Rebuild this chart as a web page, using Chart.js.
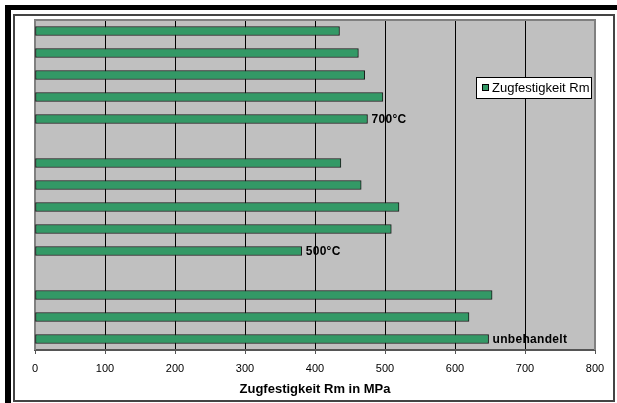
<!DOCTYPE html>
<html>
<head>
<meta charset="utf-8">
<script src="https://cdn.jsdelivr.net/npm/chart.js@4/dist/chart.umd.min.js"></script>
<style>
  html, body { margin: 0; padding: 0; background: #fff; }
  #wrap { width: 617px; height: 403px; }
</style>
</head>
<body>
<div id="wrap"><canvas id="c" width="617" height="403"></canvas></div>
<script>
// Tensile strength per specimen, grouped by heat treatment (top to bottom).
// Empty slots separate the groups; the group name sits on the last bar of each group.
const categories = ['', '', '', '', '700°C', '', '', '', '', '', '500°C', '', '', '', 'unbehandelt'];
const rmValues = [435, 462, 471, 497, 475, null, 437, 466, 520, 509, 381, null, 653, 620, 648];
const xTicks = [0, 100, 200, 300, 400, 500, 600, 700, 800];
const seriesName = 'Zugfestigkeit Rm';
const axisTitle = 'Zugfestigkeit Rm in MPa';

const BAR = '#339966';

// Frame, plot background and legend box
const decor = {
  id: 'decor',
  beforeDraw(chart) {
    const ctx = chart.ctx;
    const a = chart.chartArea;
    ctx.save();
    ctx.fillStyle = '#fff';
    ctx.fillRect(0, 0, chart.width, chart.height);
    // heavy black edge on top and left
    ctx.fillStyle = '#000';
    ctx.fillRect(5, 5, 612, 5);
    ctx.fillRect(5, 5, 6, 398);
    // inner frame
    ctx.strokeStyle = '#444';
    ctx.lineWidth = 2;
    ctx.strokeRect(14, 15, 600, 386);
    // plot area
    ctx.fillStyle = '#c0c0c0';
    ctx.fillRect(a.left, a.top, a.right - a.left, a.bottom - a.top);
    ctx.restore();
  },
  beforeDatasetsDraw(chart) {
    const ctx = chart.ctx;
    const a = chart.chartArea;
    ctx.save();
    ctx.strokeStyle = '#808080';
    ctx.lineWidth = 2;
    ctx.beginPath();
    ctx.moveTo(a.left, a.bottom);
    ctx.lineTo(a.left, a.top);
    ctx.lineTo(a.right, a.top);
    ctx.lineTo(a.right, a.bottom);
    ctx.stroke();
    ctx.restore();
  },
  afterDraw(chart) {
    const ctx = chart.ctx;
    ctx.save();
    // legend
    ctx.fillStyle = '#fff';
    ctx.fillRect(476.5, 77.5, 115, 21);
    ctx.strokeStyle = '#000';
    ctx.lineWidth = 1;
    ctx.strokeRect(476.5, 77.5, 115, 21);
    ctx.fillStyle = BAR;
    ctx.fillRect(482.5, 84.5, 6, 6);
    ctx.strokeRect(482.5, 84.5, 6, 6);
    ctx.fillStyle = '#000';
    ctx.font = '13px "Liberation Sans", Arial, sans-serif';
    ctx.textBaseline = 'middle';
    ctx.textAlign = 'left';
    ctx.fillText(chart.data.datasets[0].label, 492, 88.5);
    ctx.restore();
  }
};

// Group names written just past the end of their bar
const groupLabels = {
  id: 'groupLabels',
  afterDatasetsDraw(chart) {
    const ctx = chart.ctx;
    const meta = chart.getDatasetMeta(0);
    ctx.save();
    ctx.font = 'bold 12px "Liberation Sans", Arial, sans-serif';
    ctx.letterSpacing = '0.3px';
    ctx.fillStyle = '#000';
    ctx.textBaseline = 'middle';
    ctx.textAlign = 'left';
    categories.forEach((name, i) => {
      if (!name || rmValues[i] == null) return;
      const el = meta.data[i];
      ctx.fillText(name, el.x + 4, el.y + 0.5);
    });
    ctx.restore();
  }
};

new Chart(document.getElementById('c'), {
  type: 'bar',
  data: {
    labels: categories,
    datasets: [{
      label: seriesName,
      data: rmValues,
      backgroundColor: BAR,
      borderColor: '#1a1a1a',
      borderWidth: 1,
      borderSkipped: false,
      barThickness: 9
    }]
  },
  options: {
    indexAxis: 'y',
    responsive: false,
    animation: false,
    events: [],
    layout: { padding: { left: 35, right: 22, top: 20, bottom: 0 } },
    plugins: { legend: { display: false }, tooltip: { enabled: false } },
    scales: {
      x: {
        min: 0,
        max: 800,
        afterBuildTicks(scale) { scale.ticks = xTicks.map(v => ({ value: v })); },
        afterFit(scale) { scale.height = 53; },
        grid: {
          color: ctx => (ctx.index === 0 || ctx.index === xTicks.length - 1) ? 'rgba(0,0,0,0)' : '#000',
          lineWidth: 1,
          tickColor: '#555',
          tickLength: 4,
          drawTicks: true
        },
        border: { display: true, color: '#555', width: 2 },
        ticks: {
          color: '#000',
          font: { family: '"Liberation Sans", Arial, sans-serif', size: 11 },
          padding: 8,
          maxRotation: 0,
          autoSkip: false
        },
        title: {
          display: true,
          text: axisTitle,
          color: '#000',
          font: { family: '"Liberation Sans", Arial, sans-serif', size: 13, weight: 'bold' },
          padding: { top: 0, bottom: 6 }
        }
      },
      y: {
        display: false
      }
    }
  },
  plugins: [decor, groupLabels]
});
</script>
</body>
</html>
